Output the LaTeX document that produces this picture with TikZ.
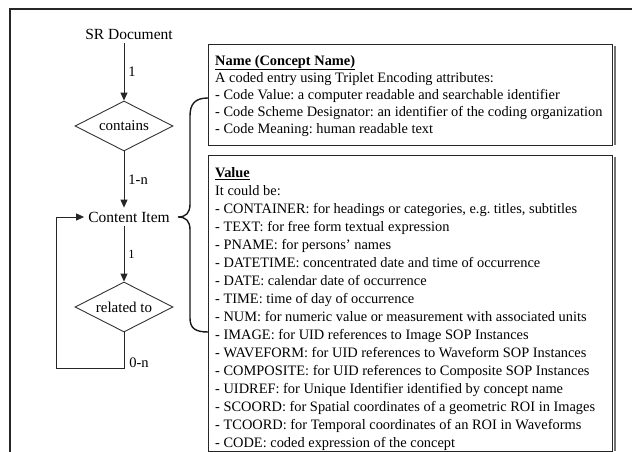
\documentclass[tikz,border=0pt]{standalone}
\usepackage{fontspec}
\setmainfont{Liberation Serif}
\usetikzlibrary{shapes.geometric,arrows.meta}
\begin{document}
\frenchspacing
\begin{tikzpicture}[x=1pt,y=-1pt,
  flow/.style={font=\fontsize{15.5}{18}\selectfont, inner sep=4pt},
  lbl/.style={font=\fontsize{14.5}{16}\selectfont, inner sep=0pt},
  dec/.style={diamond, draw=black!80, line width=0.9pt, aspect=2, minimum width=98pt, minimum height=50pt, inner sep=0pt, font=\fontsize{15}{18}\selectfont},
  arr/.style={-{Triangle[length=8pt,width=7pt]}, line width=0.9pt, draw=black!85},
  infobox/.style={draw=black!85, line width=1pt, anchor=north west, minimum width=404pt, inner sep=0pt},
  shade/.style={draw=black!55, line width=2.5pt},
  infotext/.style={anchor=north west, align=left, inner sep=0pt},
  bracepath/.style={line width=1.4pt, draw=black!90}]
\useasboundingbox (0,0) rectangle (632,452);
% outer frame
\draw[line width=1.2pt, black!85] (632,9) -- (10,9) -- (10,460);
% flow chart
\node[flow] (sr) at (129,34) {SR Document};
\node[dec] (contains) at (124,126) {contains};
\node[flow] (ci) at (129,217) {Content Item};
\node[dec] (rel) at (124,307) {related to};
\draw[arr] (sr.south -| contains) -- node[lbl, right=4pt] (l1) {1} (contains.north);
\draw[arr] (contains.south) -- node[lbl, right=4pt] (l2) {1-n} (contains.south |- ci.north);
\draw[arr] (ci.south -| rel) -- node[lbl, right=4pt, font=\fontsize{12.5}{14}\selectfont] (l3) {1} (rel.north);
\coordinate (lp) at (56,368);
\draw[arr] (rel.south) |- (lp) |- (ci.west);
\node[lbl] (l4) at (139,363) {0-n};
% name box
\node[infobox, minimum height=101pt] (namebox) at (208,44) {};
\draw[shade] ([xshift=2pt,yshift=-2pt]namebox.north east) -- ([xshift=2pt,yshift=1pt]namebox.south east);
\node[infotext, font=\fontsize{14.4}{17}\selectfont] (nametxt) at ([shift={(7pt,-11pt)}]namebox.north west) {%
\textbf{\underline{Name (Concept Name)}}\\
A coded entry using Triplet Encoding attributes:\\
- Code Value: a computer readable and searchable identifier\\
- Code Scheme Designator: an identifier of the coding organization\\
- Code Meaning: human readable text};
% value box
\node[infobox, minimum height=296pt] (valbox) at (208,155) {};
\draw[shade] ([xshift=2pt,yshift=-2pt]valbox.north east) -- ([xshift=2pt,yshift=1pt]valbox.south east);
\node[infotext, font=\fontsize{14.4}{18}\selectfont] (valtxt) at ([shift={(7pt,-12pt)}]valbox.north west) {%
\textbf{\underline{Value}}\\
It could be:\\
- CONTAINER: for headings or categories, e.g. titles, subtitles\\
- TEXT: for free form textual expression\\
- PNAME: for persons' names\\
- DATETIME: concentrated date and time of occurrence\\
- DATE: calendar date of occurrence\\
- TIME: time of day of occurrence\\
- NUM: for numeric value or measurement with associated units\\
- IMAGE: for UID references to Image SOP Instances\\
- WAVEFORM: for UID references to Waveform SOP Instances\\
- COMPOSITE: for UID references to Composite SOP Instances\\
- UIDREF: for Unique Identifier identified by concept name\\
- SCOORD: for Spatial coordinates of a geometric ROI in Images\\
- TCOORD: for Temporal coordinates of an ROI in Waveforms\\
- CODE: coded expression of the concept};
% brace
\coordinate (btop) at (208,98);
\coordinate (bbot) at (208,332);
\coordinate (btip) at (178,217);
\draw[bracepath] (btop) .. controls (195,98) and (190,104) .. (190,116)
  -- (190,204) .. controls (190,213) and (186,217) .. (btip)
  .. controls (186,217) and (190,221) .. (190,230)
  -- (190,318) .. controls (190,328) and (195,332) .. (bbot);
\end{tikzpicture}
\end{document}
